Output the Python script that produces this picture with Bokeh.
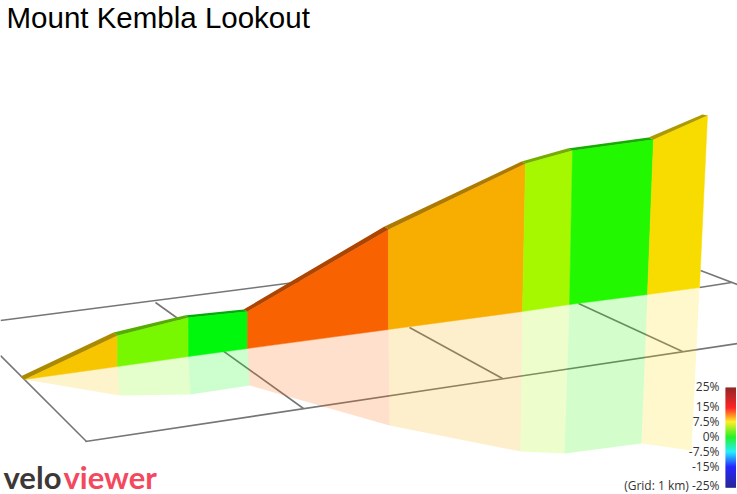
from bokeh.plotting import figure
from bokeh.embed import file_html
from bokeh.resources import INLINE
from bokeh.core.properties import value

# ---- data (screen projection of the 3D profile) ----
title_text = "Mount Kembla Lookout"
seg_colors = ["#F7C600", "#78F800", "#00F80C", "#F86200", "#F8AE00", "#A6F800", "#22F800", "#F8DC00"]
# boundaries between the gradient segments
top_x = [24, 117, 188, 247, 388, 525, 572, 653, 707]
top_y = [379, 335, 317, 311, 229, 163, 150, 139, 115]
back_x = [20, 113, 184, 243, 384, 521, 567, 648, 702]
back_y = [376, 332, 315, 309, 226, 161, 148, 137, 114]
base_x = [24, 117, 188, 247, 388, 522, 569, 647, 699]
base_y = [379, 366, 356, 348, 329, 311, 304, 294, 287]
shadow_x = [24, 119, 190, 249, 389, 520, 564, 641, 691]
shadow_y = [379, 395, 394, 385, 425, 451, 453, 443, 450]

# grid lines on the ground plane: (x0, y0, x1, y1)
grid_x0 = [0, 0, 85, 155, 409, 578, 700, 699]
grid_y0 = [320, 355, 441, 302, 327, 303, 270, 287]
grid_x1 = [340, 86, 737, 303, 502, 682, 737, 731]
grid_y1 = [276, 441, 343, 408, 378, 351, 284, 282]

# gradient legend
legend_labels = ["25%", "15%", "7.5%", "0%", "-7.5%", "-15%", "(Grid: 1 km) -25%"]
legend_label_y = [386, 406, 421, 436, 451, 466, 485]
legend_stop_y = [387, 407, 421, 436, 451, 466, 487]
legend_stop_rgb = [(128, 0, 0), (255, 0, 0), (255, 235, 0), (0, 240, 0), (0, 235, 255), (0, 0, 255), (0, 0, 130)]

GRID_COL = "#767676"

p = figure(width=737, height=494, x_range=(0, 737), y_range=(494, 0),
           output_backend="svg", toolbar_location=None, min_border=0,
           outline_line_color=None, background_fill_color="white", border_fill_color="white")
p.axis.visible = False
p.grid.visible = False
p.styles = {"position": "absolute", "left": "0px", "top": "0px"}

p.segment(grid_x0, grid_y0, grid_x1, grid_y1, line_color=GRID_COL, line_width=1.6)

def shade(c, f):
    r, g, b = int(c[1:3], 16), int(c[3:5], 16), int(c[5:7], 16)
    return "#%02x%02x%02x" % (int(r * f), int(g * f), int(b * f))

n = len(seg_colors)
ss = [[shadow_x[i], shadow_x[i + 1], base_x[i + 1], base_x[i]] for i in range(n)]
sy = [[shadow_y[i], shadow_y[i + 1], base_y[i + 1], base_y[i]] for i in range(n)]
p.patches(ss, sy, fill_color=seg_colors, fill_alpha=0.2, line_color=None)

fx = [[base_x[i], base_x[i + 1], top_x[i + 1], top_x[i]] for i in range(n)]
fy = [[base_y[i], base_y[i + 1], top_y[i + 1], top_y[i]] for i in range(n)]
p.patches(fx, fy, fill_color=seg_colors, line_color=seg_colors, line_width=0.5)

tx = [[top_x[i], top_x[i + 1], back_x[i + 1], back_x[i]] for i in range(n)]
ty = [[top_y[i], top_y[i + 1], back_y[i + 1], back_y[i]] for i in range(n)]
p.patches(tx, ty, fill_color=[shade(c, 0.7) for c in seg_colors], line_color=None)

# colour bar
bar_top, bar_bot, bar_col = [], [], []
for i in range(len(legend_stop_y) - 1):
    y0, y1 = legend_stop_y[i], legend_stop_y[i + 1]
    c0, c1 = legend_stop_rgb[i], legend_stop_rgb[i + 1]
    for y in range(y0, y1):
        t = (y - y0) / (y1 - y0)
        bar_top.append(y)
        bar_bot.append(y + 1.2)
        bar_col.append("#%02x%02x%02x" % tuple(int(a + (b - a) * t) for a, b in zip(c0, c1)))
p.quad(left=725, right=735.5, top=bar_top, bottom=bar_bot, fill_color=bar_col, line_color=None)

p.text([719] * len(legend_labels), legend_label_y, text=legend_labels, text_font=value("Open Sans"),
       text_font_size="12px", text_color="#333333", text_align="right", text_baseline="middle")

p.text([6], [17], text=[title_text], text_font=value("Liberation Sans"), text_font_size="29.5px",
       text_color="#000000", text_align="left", text_baseline="middle")

p.text([3], [476], text=["velo"], text_font=value("Lato"), text_font_size="31px",
       text_font_style="bold", text_color="#3c3836", text_align="left", text_baseline="middle")
p.text([63], [476], text=["viewer"], text_font=value("Lato"), text_font_size="31px",
       text_font_style="bold", text_color="#f4485e", text_align="left", text_baseline="middle")

open("out.html", "w").write(file_html(p, INLINE))
